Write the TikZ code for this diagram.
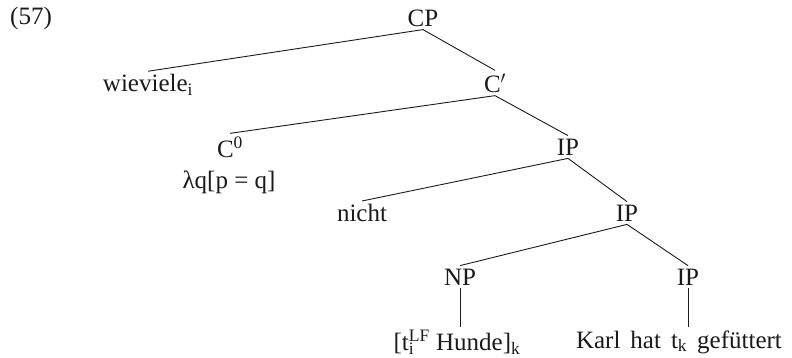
\documentclass[tikz,border=0pt]{standalone}
\usepackage{fontspec}
\setmainfont{Liberation Serif}
\usetikzlibrary{positioning}
\definecolor{ink}{HTML}{1A1A1A}

\begin{document}
\begin{tikzpicture}[x=1pt,y=-1pt,
    cat/.style={font=\fontsize{25}{29}\selectfont,inner sep=3pt,text=ink},
    branch/.style={ink,line width=0.9pt}]
  \useasboundingbox (0,0) rectangle (792,358);

  % example number
  \node[cat] (num) at (31,18) {(57)};

  % CP layer
  \node[cat] (cp) at (423,18) {CP};
  \node[cat] (wie) at (148,85) {wieviele\textsubscript{i}};
  \node[cat] (cbar) at (495,83) {C$'$};

  % C-bar layer
  \node[cat] (czero) at (230,147) {C\textsuperscript{0}};
  \node[cat] (lam) at (229,182) {λq[p = q]};
  \node[cat] (ipa) at (568,147) {IP};

  % negation
  \node[cat] (nicht) at (362,213) {nicht};
  \node[cat] (ipb) at (627,213) {IP};

  % lowest layer
  \node[cat] (np) at (460,277) {NP};
  \node[cat] (ipc) at (688,277) {IP};
  \node[cat] (hunde) at (457,342) {[t\rlap{\textsubscript{i}}\textsuperscript{LF} Hunde]\textsubscript{k}};
  \node[cat,font={\fontsize{25}{29}\selectfont\spaceskip=0.4em\relax}] (karl) at (679,342) {Karl hat t\textsubscript{k} gefüttert};

  % branches
  \draw[branch] (cp.south) -- (wie.north);
  \draw[branch] (cp.south) -- (cbar.north);
  \draw[branch] (cbar.south) -- (czero.north);
  \draw[branch] (cbar.south) -- (ipa.north);
  \draw[branch] (ipa.south) -- (nicht.north);
  \draw[branch] (ipa.south) -- (ipb.north);
  \draw[branch] (ipb.south) -- (np.north);
  \draw[branch] (ipb.south) -- (ipc.north);
  \draw[branch] (np.south) -- (np.south |- hunde.north);
  \draw[branch] (ipc.south) -- (ipc.south |- karl.north);
\end{tikzpicture}
\end{document}
